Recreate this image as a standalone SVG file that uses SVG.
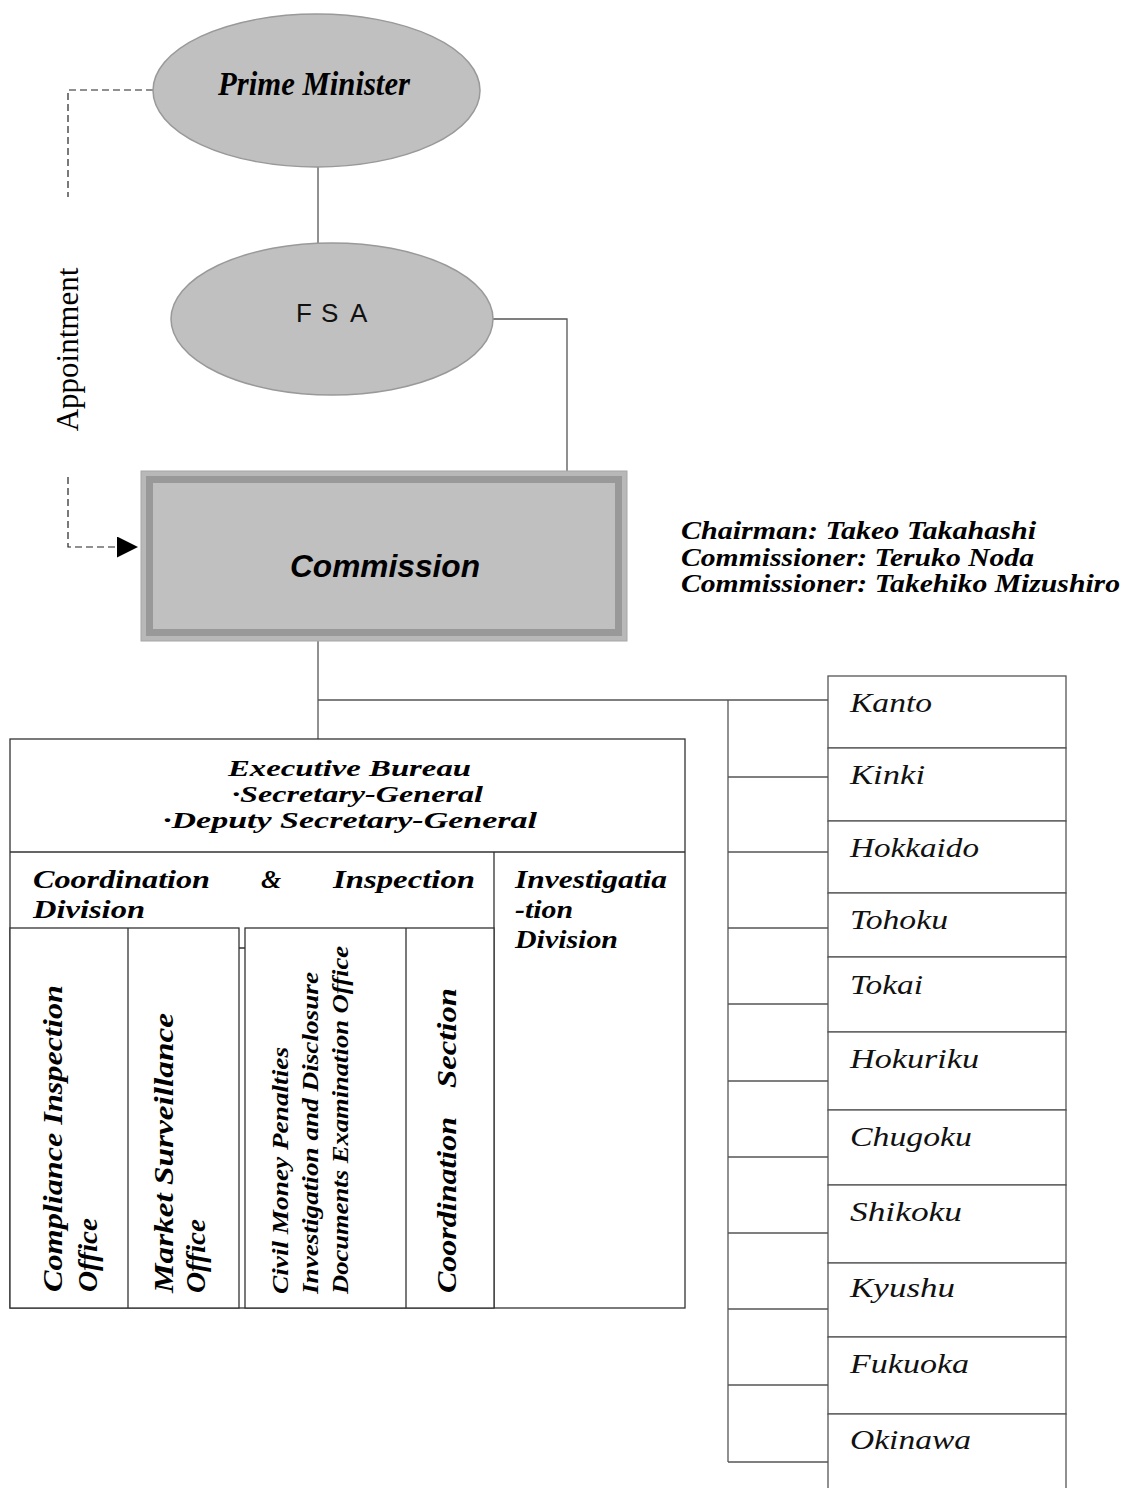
<svg xmlns="http://www.w3.org/2000/svg" width="1128" height="1488" viewBox="0 0 1128 1488">
<defs>
<marker id="arrow" markerWidth="21" markerHeight="21" refX="0" refY="10.5" orient="auto" markerUnits="userSpaceOnUse"><path d="M0,0 L21,10.5 L0,21 z" fill="#000"/></marker>
</defs>
<style>
.ell{fill:#c0c0c0;stroke:#999;stroke-width:1.5}
.conn{fill:none;stroke:#555;stroke-width:1.3}
.dash{fill:none;stroke:#222;stroke-width:1.2;stroke-dasharray:7 4}
.box{fill:#fff;stroke:#333;stroke-width:1.3}
.ln{fill:none;stroke:#333;stroke-width:1.3}
.rbox{fill:#fff;stroke:#555;stroke-width:1.3}
.cond{font-family:"Liberation Serif",serif;font-style:italic;font-weight:bold;fill:#000}
.ser{font-family:"Liberation Serif",serif;font-style:italic;font-weight:bold;fill:#000}
.reg{font-family:"Liberation Serif",serif;font-style:italic;font-size:27px;fill:#111}
</style>
<rect width="1128" height="1488" fill="#fff"/>

<g id="connectors">
  <path class="dash" d="M153,90 H68 V197"/>
  <path class="dash" d="M68,477 V547 H117" marker-end="url(#arrow)"/>
  <path class="conn" d="M318,167 V243"/>
  <path class="conn" d="M493,319 H567 V471"/>
  <path class="conn" d="M318,641 V739"/>
  <path class="conn" d="M318,700 H828"/>
  <path class="conn" d="M728,700 V1462"/>
  <path class="conn" d="M728,777 H828 M728,852 H828 M728,928 H828 M728,1004 H828 M728,1081 H828 M728,1157 H828 M728,1233 H828 M728,1309 H828 M728,1385 H828 M728,1462 H828"/>
  <text font-family="Liberation Serif, serif" font-size="31" transform="translate(78,349.5) rotate(-90)" text-anchor="middle">Appointment</text>
</g>

<g id="prime-minister">
  <ellipse class="ell" cx="316.5" cy="90.5" rx="163.5" ry="76.5"/>
  <text class="cond" x="218" y="95" font-size="34" textLength="192" lengthAdjust="spacingAndGlyphs">Prime Minister</text>
</g>

<g id="fsa">
  <ellipse class="ell" cx="332" cy="319" rx="161" ry="76"/>
  <text font-family="Liberation Sans, sans-serif" font-size="26" y="322" x="296 308 321 335 350" fill="#111">F S A</text>
</g>

<g id="commission">
  <rect x="141" y="471" width="486" height="170" fill="#b8b8b8" stroke="#a6a6a6" stroke-width="1"/>
  <rect x="146" y="476" width="476" height="160" fill="#999"/>
  <rect x="153" y="483" width="462" height="146" fill="#c0c0c0"/>
  <text x="290" y="577" font-family="Liberation Sans, sans-serif" font-style="italic" font-weight="bold" font-size="31" textLength="190" lengthAdjust="spacingAndGlyphs">Commission</text>
</g>

<g id="commission-members">
  <text class="cond" x="681" y="539" font-size="25" textLength="355" lengthAdjust="spacingAndGlyphs">Chairman: Takeo Takahashi</text>
  <text class="cond" x="681" y="566" font-size="25" textLength="353" lengthAdjust="spacingAndGlyphs">Commissioner: Teruko Noda</text>
  <text class="cond" x="681" y="592" font-size="25" textLength="439" lengthAdjust="spacingAndGlyphs">Commissioner: Takehiko Mizushiro</text>
</g>

<g id="executive-bureau">
  <rect class="box" x="10" y="739" width="675" height="569"/>
  <path class="ln" d="M10,852 H685 M494,852 V1308"/>
  <text class="ser" font-size="24" x="228" y="776" textLength="243" lengthAdjust="spacingAndGlyphs">Executive Bureau</text>
  <text class="ser" font-size="24" x="232" y="802" textLength="251" lengthAdjust="spacingAndGlyphs">·Secretary-General</text>
  <text class="ser" font-size="24" x="163" y="828" textLength="374" lengthAdjust="spacingAndGlyphs">·Deputy Secretary-General</text>
</g>

<g id="coordination-inspection-division">
  <text class="ser" font-size="26" y="888"><tspan x="33" textLength="177" lengthAdjust="spacingAndGlyphs">Coordination</tspan> <tspan x="261">&amp;</tspan> <tspan x="333" textLength="142" lengthAdjust="spacingAndGlyphs">Inspection</tspan></text>
  <text class="ser" font-size="26" x="33" y="918" textLength="112" lengthAdjust="spacingAndGlyphs">Division</text>
  <rect class="box" x="10" y="928" width="229" height="380"/>
  <path class="ln" d="M128,928 V1308"/>
  <rect class="box" x="245" y="928" width="249" height="380"/>
  <path class="ln" d="M406,928 V1308 M239,948 H245"/>
</g>

<g id="compliance-inspection-office">
  <text class="ser" font-size="28" transform="translate(62,1292) rotate(-90)"><tspan x="0" y="0" textLength="307" lengthAdjust="spacingAndGlyphs">Compliance Inspection</tspan><tspan x="0" y="35" textLength="74" lengthAdjust="spacingAndGlyphs">Office</tspan></text>
</g>
<g id="market-surveillance-office">
  <text class="ser" font-size="28" transform="translate(173,1293) rotate(-90)"><tspan x="0" y="0" textLength="280" lengthAdjust="spacingAndGlyphs">Market Surveillance</tspan><tspan x="0" y="32" textLength="74" lengthAdjust="spacingAndGlyphs">Office</tspan></text>
</g>
<g id="civil-money-penalties-office">
  <text class="ser" font-size="24" transform="translate(288,1294) rotate(-90)"><tspan x="0" y="0" textLength="247" lengthAdjust="spacingAndGlyphs">Civil Money Penalties</tspan><tspan x="0" y="30" textLength="322" lengthAdjust="spacingAndGlyphs">Investigation and Disclosure</tspan><tspan x="0" y="60" textLength="348" lengthAdjust="spacingAndGlyphs">Documents Examination Office</tspan></text>
</g>
<g id="coordination-section">
  <text class="ser" font-size="28" transform="translate(456,1293) rotate(-90)"><tspan x="0" textLength="176" lengthAdjust="spacingAndGlyphs">Coordination</tspan> <tspan x="205" textLength="100" lengthAdjust="spacingAndGlyphs">Section</tspan></text>
</g>

<g id="investigation-division">
  <text class="ser" font-size="26" x="515" y="888" textLength="152" lengthAdjust="spacingAndGlyphs">Investigatia</text>
  <text class="ser" font-size="26" x="515" y="918" textLength="58" lengthAdjust="spacingAndGlyphs">-tion</text>
  <text class="ser" font-size="26" x="515" y="948" textLength="103" lengthAdjust="spacingAndGlyphs">Division</text>
</g>

<g id="regional-bureaus">
  <g id="kanto"><rect class="rbox" x="828" y="676" width="238" height="72"/><text class="reg" x="850" y="712" textLength="82" lengthAdjust="spacingAndGlyphs">Kanto</text></g>
  <g id="kinki"><rect class="rbox" x="828" y="748" width="238" height="73"/><text class="reg" x="850" y="784" textLength="75" lengthAdjust="spacingAndGlyphs">Kinki</text></g>
  <g id="hokkaido"><rect class="rbox" x="828" y="821" width="238" height="72"/><text class="reg" x="850" y="857" textLength="129" lengthAdjust="spacingAndGlyphs">Hokkaido</text></g>
  <g id="tohoku"><rect class="rbox" x="828" y="893" width="238" height="64"/><text class="reg" x="850" y="929" textLength="98" lengthAdjust="spacingAndGlyphs">Tohoku</text></g>
  <g id="tokai"><rect class="rbox" x="828" y="957" width="238" height="75"/><text class="reg" x="850" y="994" textLength="73" lengthAdjust="spacingAndGlyphs">Tokai</text></g>
  <g id="hokuriku"><rect class="rbox" x="828" y="1032" width="238" height="78"/><text class="reg" x="850" y="1068" textLength="129" lengthAdjust="spacingAndGlyphs">Hokuriku</text></g>
  <g id="chugoku"><rect class="rbox" x="828" y="1110" width="238" height="75"/><text class="reg" x="850" y="1146" textLength="122" lengthAdjust="spacingAndGlyphs">Chugoku</text></g>
  <g id="shikoku"><rect class="rbox" x="828" y="1185" width="238" height="78"/><text class="reg" x="850" y="1221" textLength="112" lengthAdjust="spacingAndGlyphs">Shikoku</text></g>
  <g id="kyushu"><rect class="rbox" x="828" y="1263" width="238" height="74"/><text class="reg" x="850" y="1297" textLength="105" lengthAdjust="spacingAndGlyphs">Kyushu</text></g>
  <g id="fukuoka"><rect class="rbox" x="828" y="1337" width="238" height="77"/><text class="reg" x="850" y="1373" textLength="119" lengthAdjust="spacingAndGlyphs">Fukuoka</text></g>
  <g id="okinawa"><rect class="rbox" x="828" y="1414" width="238" height="80"/><text class="reg" x="850" y="1449" textLength="121" lengthAdjust="spacingAndGlyphs">Okinawa</text></g>
</g>
</svg>
